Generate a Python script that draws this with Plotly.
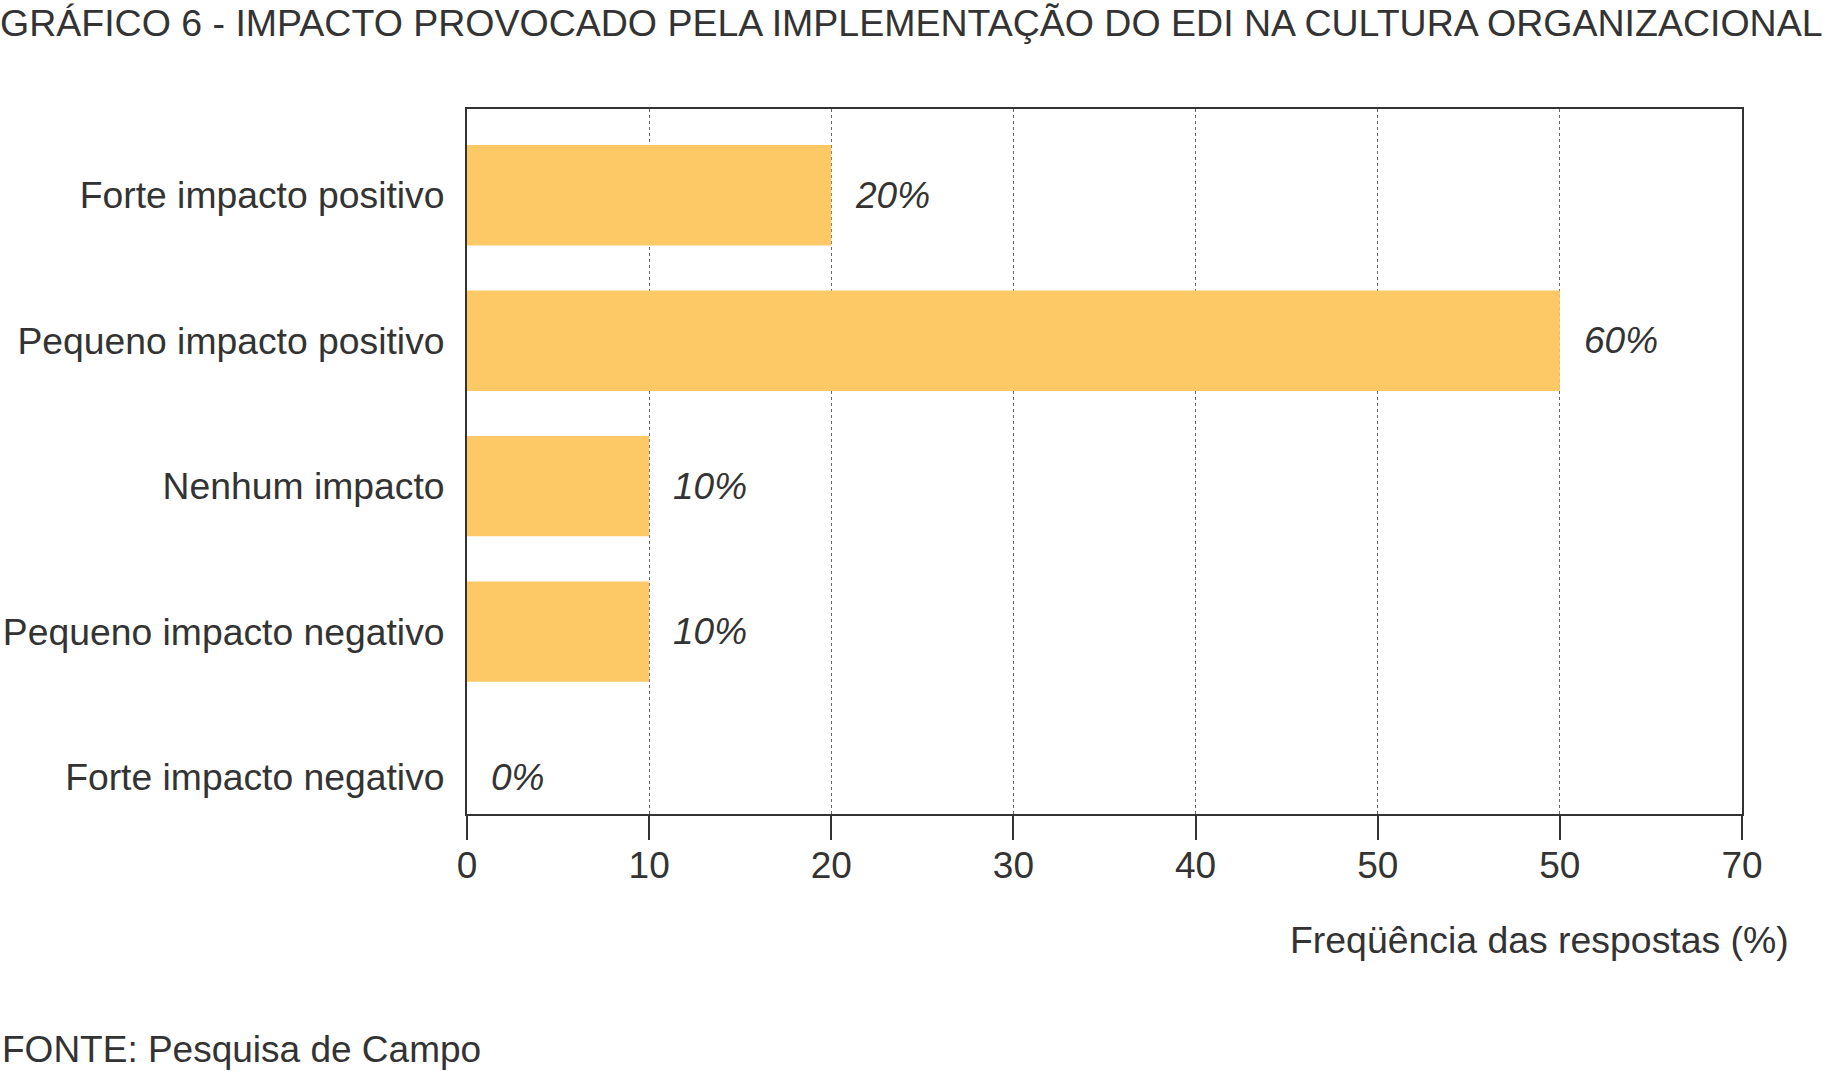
import plotly.graph_objects as go

categories = ["Forte impacto positivo", "Pequeno impacto positivo", "Nenhum impacto",
              "Pequeno impacto negativo", "Forte impacto negativo"]
values = [20, 60, 10, 10, 0]
bar_labels = ["20%", "60%", "10%", "10%", "0%"]
tick_vals = [0, 10, 20, 30, 40, 50, 60, 70]
tick_text = ["0", "10", "20", "30", "40", "50", "50", "70"]

title_text = "GRÁFICO 6 - IMPACTO PROVOCADO PELA IMPLEMENTAÇÃO DO EDI NA CULTURA ORGANIZACIONAL"
xaxis_title = "Freqüência das respostas (%)"
source_text = "FONTE: Pesquisa de Campo"

FONT = "Liberation Sans, Arial, Helvetica, sans-serif"
TXT = "#333333"

fig = go.Figure()
fig.add_trace(go.Bar(
    x=values, y=categories, orientation="h",
    marker=dict(color="#FDC966", line=dict(width=0)),
    width=0.69, hoverinfo="skip",
))

for v, c, t in zip(values, categories, bar_labels):
    fig.add_annotation(x=v, y=c, xref="x", yref="y", text=t, showarrow=False,
                       xanchor="left", yanchor="middle", xshift=22,
                       font=dict(family=FONT, size=37, color=TXT, style="italic"))

fig.add_annotation(x=0, y=1, xref="paper", yref="paper", text=title_text, showarrow=False,
                   xanchor="left", yanchor="middle", xshift=-469, yshift=86,
                   font=dict(family=FONT, size=37.5, color=TXT))
fig.add_annotation(x=1, y=0, xref="paper", yref="paper", text=xaxis_title, showarrow=False,
                   xanchor="right", yanchor="middle", xshift=49, yshift=-126,
                   font=dict(family=FONT, size=37.4, color=TXT))
fig.add_annotation(x=0, y=0, xref="paper", yref="paper", text=source_text, showarrow=False,
                   xanchor="left", yanchor="middle", xshift=-467, yshift=-235,
                   font=dict(family=FONT, size=37, color=TXT))

fig.update_layout(
    width=1825, height=1071,
    margin=dict(l=467, r=83, t=109, b=257, autoexpand=False),
    paper_bgcolor="white", plot_bgcolor="white",
    showlegend=False,
    font=dict(family=FONT, size=37, color=TXT),
    bargap=0.3,
)
fig.update_xaxes(
    range=[0, 70], tickvals=tick_vals, ticktext=tick_text,
    showgrid=True, griddash="dot", gridcolor="#666666", gridwidth=1,
    showline=True, linecolor="#333333", linewidth=2, mirror=True,
    ticks="outside", ticklen=24, tickwidth=2, tickcolor="#333333",
    ticklabelstandoff=-6, automargin=False,
    zeroline=False, tickfont=dict(family=FONT, size=37, color=TXT),
)
fig.update_yaxes(
    type="category", categoryorder="array", categoryarray=categories,
    range=[4.254, -0.593], automargin=False,
    showgrid=False, showline=True, linecolor="#333333", linewidth=2, mirror=True,
    ticks="", ticklabelstandoff=13, zeroline=False,
    tickfont=dict(family=FONT, size=37.3, color=TXT),
)

fig.write_html("out.html")
